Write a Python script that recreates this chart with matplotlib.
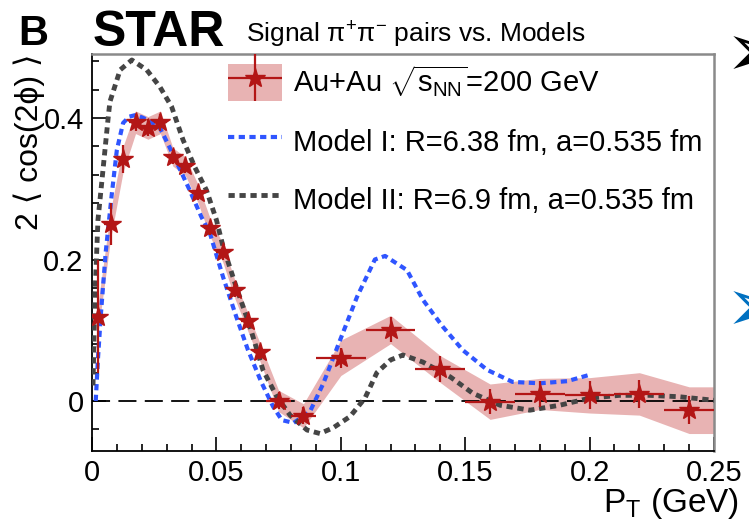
import matplotlib
matplotlib.use("Agg")
import matplotlib.pyplot as plt
import numpy as np
from matplotlib import font_manager
from matplotlib.patches import Patch
from matplotlib.container import ErrorbarContainer
from matplotlib.legend_handler import HandlerErrorbar, HandlerTuple
from matplotlib.ticker import MultipleLocator, FuncFormatter

# ---------------- data ----------------
pt = [0.0025, 0.0075, 0.0125, 0.0175, 0.0225, 0.0275, 0.0325, 0.0375, 0.0425, 0.0475,
      0.0525, 0.0575, 0.0625, 0.0675, 0.075, 0.085, 0.10, 0.12, 0.14, 0.16, 0.18, 0.20, 0.22, 0.24]
pt_err = [0.0025] * 14 + [0.005, 0.005] + [0.01] * 8
v2 = [0.119, 0.250, 0.342, 0.394, 0.386, 0.394, 0.345, 0.332, 0.294, 0.245,
      0.210, 0.157, 0.113, 0.069, 0.000, -0.021, 0.061, 0.101, 0.045, -0.001, 0.010, 0.008, 0.010, -0.013]
v2_stat = [0.080, 0.030, 0.020, 0.012, 0.012, 0.012, 0.010, 0.010, 0.010, 0.010,
           0.010, 0.010, 0.010, 0.010, 0.012, 0.012, 0.014, 0.018, 0.018, 0.018, 0.018, 0.020, 0.020, 0.020]
v2_sys = [0.020, 0.020, 0.018, 0.016, 0.016, 0.016, 0.013, 0.013, 0.013, 0.013,
          0.013, 0.013, 0.013, 0.013, 0.015, 0.017, 0.025, 0.020, 0.019, 0.025, 0.022, 0.025, 0.030, 0.033]

model1_pt = [0.0015, 0.0024, 0.0036, 0.0055, 0.008, 0.010, 0.0125, 0.015, 0.0173, 0.020, 0.0225,
             0.0273, 0.031, 0.035, 0.039, 0.044, 0.0474, 0.0527, 0.058, 0.0627, 0.068, 0.0728,
             0.0763, 0.081, 0.0876, 0.093, 0.0997, 0.1065, 0.1137, 0.1178, 0.1266, 0.133, 0.141,
             0.149, 0.1588, 0.169, 0.18, 0.191, 0.20]
model1_v2 = [0.0, 0.060, 0.124, 0.210, 0.294, 0.355, 0.393, 0.402, 0.404, 0.401, 0.397,
             0.386, 0.360, 0.330, 0.300, 0.260, 0.237, 0.175, 0.119, 0.072, 0.027, -0.008,
             -0.027, -0.031, -0.015, 0.025, 0.086, 0.147, 0.200, 0.205, 0.185, 0.143, 0.105,
             0.072, 0.044, 0.027, 0.025, 0.028, 0.037]

model2_pt = [0.0004, 0.0012, 0.0024, 0.004, 0.0064, 0.0072, 0.0113, 0.016, 0.022, 0.0273, 0.032,
             0.0366, 0.0414, 0.046, 0.050, 0.0527, 0.058, 0.0635, 0.0687, 0.0743, 0.0796, 0.0864,
             0.0916, 0.0969, 0.1037, 0.1097, 0.1145, 0.120, 0.125, 0.133, 0.144, 0.153, 0.164,
             0.176, 0.188, 0.200, 0.212, 0.224, 0.236, 0.250]
model2_v2 = [0.022, 0.150, 0.256, 0.312, 0.397, 0.423, 0.468, 0.482, 0.468, 0.444, 0.416,
             0.369, 0.330, 0.298, 0.256, 0.218, 0.161, 0.105, 0.044, 0.006, -0.020, -0.041,
             -0.046, -0.038, -0.022, 0.004, 0.040, 0.058, 0.065, 0.055, 0.034, 0.011, -0.006,
             -0.013, -0.006, 0.004, 0.008, 0.008, 0.006, 0.001]

xticks = [0, 0.05, 0.1, 0.15, 0.2, 0.25]
yticks = [0, 0.2, 0.4]

label_data = r'Au+Au $\sqrt{\mathrm{s}_{\mathrm{NN}}}$=200 GeV'
label_m1 = 'Model I: R=6.38 fm, a=0.535 fm'
label_m2 = 'Model II: R=6.9 fm, a=0.535 fm'

# ---------------- fonts ----------------
names = {f.name for f in font_manager.fontManager.ttflist}
base = 'Liberation Sans' if 'Liberation Sans' in names else 'DejaVu Sans'
narrow = 'Liberation Sans Narrow' if 'Liberation Sans Narrow' in names else base
plt.rcParams['font.family'] = [base, 'DejaVu Sans']
plt.rcParams['mathtext.fontset'] = 'custom'
plt.rcParams['mathtext.rm'] = base
plt.rcParams['mathtext.it'] = base + ':italic'
plt.rcParams['mathtext.bf'] = base + ':bold'
plt.rcParams['lines.scale_dashes'] = False

FS = 21

fig = plt.figure(figsize=(7.49, 5.24), dpi=100)
ax = fig.add_axes([92 / 749, 1 - 451 / 524, 622 / 749, 397 / 524])

# systematic band (extended to the right edge of the last bin)
xb = np.append(pt, pt[-1] + pt_err[-1])
yb = np.append(v2, v2[-1])
sb = np.append(v2_sys, v2_sys[-1])
ax.fill_between(xb, yb - sb, yb + sb, color='#e8b3b3', lw=0, zorder=1)

ax.axhline(0, color='black', lw=1.3, dashes=(13, 6), zorder=2)

l1, = ax.plot(model1_pt, model1_v2, color='#2f55ff', lw=3.0, dashes=(4.5, 3.2), zorder=3)
l2, = ax.plot(model2_pt, model2_v2, color='#454545', lw=3.5, dashes=(4.5, 3.4), zorder=3)

eb = ax.errorbar(pt, v2, yerr=v2_stat, xerr=pt_err, fmt='*', color='#b31616', ms=15,
                 elinewidth=1.6, capsize=0, zorder=5)

ax.set_xlim(0, 0.25)
ax.set_ylim(-0.0707, 0.4905)
ax.set_xticks(xticks)
ax.set_yticks(yticks)
ax.xaxis.set_minor_locator(MultipleLocator(0.01))
ax.yaxis.set_minor_locator(MultipleLocator(0.04))
fmt = FuncFormatter(lambda v, p: ('%g' % round(v, 4)))
ax.xaxis.set_major_formatter(fmt)
ax.yaxis.set_major_formatter(fmt)
ax.tick_params(which='both', direction='in', top=False, right=False, labelsize=FS, width=1.2)
ax.tick_params(which='major', length=10, pad=6)
ax.tick_params(which='minor', length=5)

for s in ('left', 'bottom'):
    ax.spines[s].set_color('black')
    ax.spines[s].set_linewidth(1.3)
for s in ('top', 'right'):
    ax.spines[s].set_color('#8a8a8a')
    ax.spines[s].set_linewidth(1.8)

ax.set_xlabel(r'P$_{\mathrm{T}}$ (GeV)', fontsize=24, loc='right')
ax.xaxis.set_label_coords(1.04, -0.087)
ax.set_ylabel('2 ⟨ cos(2ϕ) ⟩', fontsize=23, loc='top', family=[base, 'DejaVu Sans'])
ax.yaxis.set_label_coords(-0.075, 1.0)

band_patch = Patch(facecolor='#e8b3b3', edgecolor='none')
leg = ax.legend([(band_patch, eb), l1, l2], [label_data, label_m1, label_m2],
                loc='upper left', bbox_to_anchor=(228 / 749, 1 - 63 / 524),
                bbox_transform=fig.transFigure, frameon=False, fontsize=FS,
                borderpad=0, borderaxespad=0, handlelength=1.86, handleheight=1.6,
                handletextpad=0.38, labelspacing=0.73, numpoints=1,
                handler_map={ErrorbarContainer: HandlerErrorbar(xerr_size=0.93, yerr_size=0.8),
                             tuple: HandlerTuple(ndivide=1)})

# title
fig.text(18 / 749, 1 - 45 / 524, 'B', fontsize=30, fontweight='bold', va='baseline')
fig.text(93 / 749, 1 - 46 / 524, 'STAR', fontsize=44 if narrow != base else 36,
         fontweight='bold', family=[narrow, 'DejaVu Sans'], va='baseline')
fig.text(246 / 749, 1 - 42 / 524, r'Signal $\mathrm{\pi}^{+}\mathrm{\pi}^{-}$ pairs vs. Models',
         fontsize=23 if narrow != base else 19, family=[narrow, 'DejaVu Sans'], va='baseline')

# slide arrow decorations
fig.text(725 / 749, 1 - 56 / 524, '➢', fontsize=54, family='DejaVu Sans', va='center', ha='left',
         color='black')
fig.text(725 / 749, 1 - 311 / 524, '➢', fontsize=54, family='DejaVu Sans', va='center', ha='left',
         color='#0070c0')

fig.savefig('out.png', dpi=100)
